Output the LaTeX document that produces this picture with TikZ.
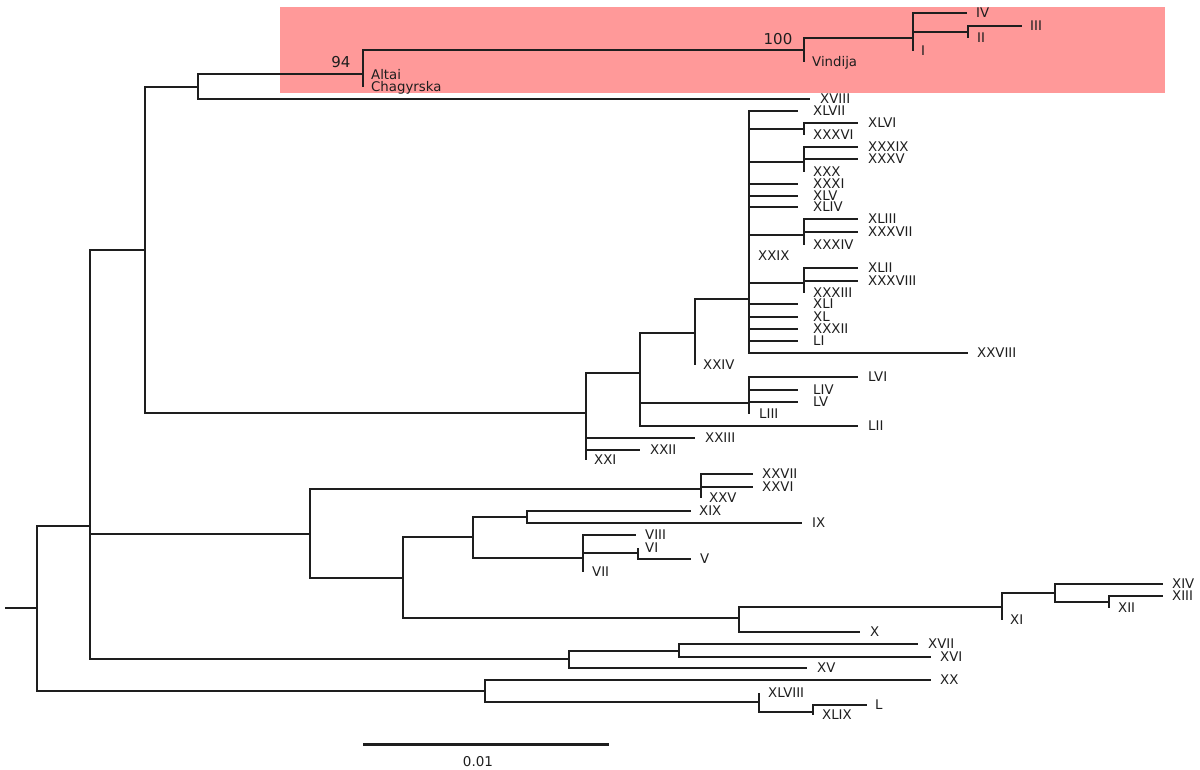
\documentclass[tikz,border=0pt]{standalone}
\usepackage{fontspec}
\setmainfont{DejaVu Sans}
\definecolor{pinkbox}{RGB}{255,153,153}
\definecolor{branch}{RGB}{30,30,30}
\newcommand{\tleaf}[5]{\coordinate (#1) at (#2,#3); \node[lab] (l#1) at (#4,#3) {#5};}
\begin{document}
\begin{tikzpicture}[x=1pt,y=-1pt,
  br/.style={line width=1.5pt, draw=branch},
  lab/.style={anchor=base west, inner sep=0pt, font=\fontsize{13.3}{13.3}\selectfont, text=branch, yshift=-4.8pt},
  boot/.style={anchor=center, inner sep=0pt, font=\fontsize{15}{15}\selectfont, text=branch}]
\useasboundingbox (0,0) rectangle (1200,770);
\fill[pinkbox] (280,7) rectangle (1165,93);
% internal nodes
\coordinate (rs) at (5,608);
\coordinate (r0) at (37,608);
\coordinate (nA) at (90,526);
\coordinate (nZ) at (485,691);
\coordinate (nB) at (145,250);
\coordinate (nC) at (310,534);
\coordinate (nD) at (569,659);
\coordinate (nE) at (198,87);
\coordinate (nF) at (586,413);
\coordinate (nG) at (363,74);
\coordinate (nH) at (804,50);
\coordinate (nI) at (913,38);
\coordinate (nJ) at (968,32);
\coordinate (nK) at (640,373);
\coordinate (nL) at (695,333);
\coordinate (nM) at (749,403);
\coordinate (nN) at (749,299);
\coordinate (nO) at (804,129);
\coordinate (nP) at (804,162);
\coordinate (nQ) at (804,235);
\coordinate (nR) at (804,283);
\coordinate (nS) at (701,489);
\coordinate (nT) at (403,578);
\coordinate (nU) at (473,537);
\coordinate (nV) at (739,618);
\coordinate (nW) at (527,517);
\coordinate (nX) at (583,558);
\coordinate (nY) at (638,553);
\coordinate (nXI) at (1002,607);
\coordinate (n14) at (1055,593);
\coordinate (n13) at (1109,602);
\coordinate (n17) at (679,651);
\coordinate (n48) at (759,702);
\coordinate (n50) at (813,712);
% leaves
\tleaf{Altai}{363}{75}{371}{Altai}
\tleaf{Chag}{363}{87}{371}{Chagyrska}
\tleaf{Vind}{804}{62}{812}{Vindija}
\tleaf{IV}{967}{13}{976}{IV}
\tleaf{III}{1022}{26}{1030}{III}
\tleaf{II}{968}{38}{977}{II}
\tleaf{I}{913}{51}{921}{I}
\tleaf{XVIII}{810}{99}{820}{XVIII}
\tleaf{XLVII}{798}{111}{813}{XLVII}
\tleaf{XLVI}{858}{123}{868}{XLVI}
\tleaf{XXXVI}{804}{135}{813}{XXXVI}
\tleaf{XXXIX}{858}{147}{868}{XXXIX}
\tleaf{XXXV}{858}{159}{868}{XXXV}
\tleaf{XXX}{804}{172}{813}{XXX}
\tleaf{XXXI}{798}{184}{813}{XXXI}
\tleaf{XLV}{798}{196}{813}{XLV}
\tleaf{XLIV}{798}{207}{813}{XLIV}
\tleaf{XLIII}{858}{219}{868}{XLIII}
\tleaf{XXXVII}{858}{232}{868}{XXXVII}
\tleaf{XXXIV}{804}{245}{813}{XXXIV}
\tleaf{XXIX}{749}{256}{758}{XXIX}
\tleaf{XLII}{858}{268}{868}{XLII}
\tleaf{XXXVIII}{858}{281}{868}{XXXVIII}
\tleaf{XXXIII}{804}{293}{813}{XXXIII}
\tleaf{XLI}{798}{304}{813}{XLI}
\tleaf{XL}{798}{317}{813}{XL}
\tleaf{XXXII}{798}{329}{813}{XXXII}
\tleaf{LI}{798}{341}{813}{LI}
\tleaf{XXVIII}{968}{353}{977}{XXVIII}
\tleaf{XXIV}{695}{365}{703}{XXIV}
\tleaf{LVI}{858}{377}{868}{LVI}
\tleaf{LIV}{798}{390}{813}{LIV}
\tleaf{LV}{798}{402}{813}{LV}
\tleaf{LIII}{749}{414}{759}{LIII}
\tleaf{LII}{858}{426}{868}{LII}
\tleaf{XXIII}{695}{438}{705}{XXIII}
\tleaf{XXII}{640}{450}{650}{XXII}
\tleaf{XXI}{586}{460}{594}{XXI}
\tleaf{XXVII}{753}{474}{762}{XXVII}
\tleaf{XXVI}{753}{487}{762}{XXVI}
\tleaf{XXV}{701}{498}{709}{XXV}
\tleaf{XIX}{691}{511}{699}{XIX}
\tleaf{IX}{802}{523}{812}{IX}
\tleaf{VIII}{636}{535}{645}{VIII}
\tleaf{VI}{638}{548}{645}{VI}
\tleaf{V}{691}{559}{700}{V}
\tleaf{VII}{583}{572}{592}{VII}
\tleaf{X}{860}{632}{870}{X}
\tleaf{XI}{1002}{620}{1010}{XI}
\tleaf{XIV}{1163}{584}{1172}{XIV}
\tleaf{XIII}{1163}{596}{1172}{XIII}
\tleaf{XII}{1109}{608}{1118}{XII}
\tleaf{XVII}{918}{644}{928}{XVII}
\tleaf{XVI}{931}{657}{940}{XVI}
\tleaf{XV}{807}{668}{817}{XV}
\tleaf{XX}{931}{680}{940}{XX}
\tleaf{XLVIII}{759}{693}{768}{XLVIII}
\tleaf{L}{867}{705}{875}{L}
\tleaf{XLIX}{813}{715}{822}{XLIX}
% branches
\draw[br] (rs) -- (r0);
\foreach \p/\c in {r0/nA, r0/nZ, nA/nB, nA/nC, nA/nD, nB/nE, nB/nF,
  nE/nG, nE/XVIII, nG/nH, nG/Altai, nG/Chag, nH/nI, nH/Vind,
  nI/IV, nI/nJ, nI/I, nJ/III, nJ/II,
  nF/nK, nF/XXIII, nF/XXII, nF/XXI, nK/nL, nK/nM, nK/LII, nL/nN, nL/XXIV,
  nN/XLVII, nN/nO, nN/nP, nN/XXXI, nN/XLV, nN/XLIV, nN/nQ, nN/XXIX, nN/nR,
  nN/XLI, nN/XL, nN/XXXII, nN/LI, nN/XXVIII,
  nO/XLVI, nO/XXXVI, nP/XXXIX, nP/XXXV, nP/XXX, nQ/XLIII, nQ/XXXVII, nQ/XXXIV,
  nR/XLII, nR/XXXVIII, nR/XXXIII, nM/LVI, nM/LIV, nM/LV, nM/LIII,
  nC/nS, nC/nT, nS/XXVII, nS/XXVI, nS/XXV, nT/nU, nT/nV, nU/nW, nU/nX,
  nW/XIX, nW/IX, nX/VIII, nX/nY, nX/VII, nY/VI, nY/V,
  nV/nXI, nV/X, nXI/n14, nXI/XI, n14/XIV, n14/n13, n13/XIII, n13/XII,
  nD/n17, nD/XV, n17/XVII, n17/XVI, nZ/XX, nZ/n48, n48/XLVIII, n48/n50,
  n50/L, n50/XLIX}
  \draw[br] (\p) |- (\c);
% bootstrap values
\node[boot] (b94) at (341,62) {94};
\node[boot] (b100) at (778,39) {100};
% scale bar
\coordinate (sb1) at (363,744);
\coordinate (sb2) at (609,744);
\draw[line width=3pt, draw=branch] (sb1) -- (sb2);
\node[boot, font=\fontsize{13.5}{13.5}\selectfont] (sbl) at (478,762) {0.01};
\end{tikzpicture}
\end{document}
